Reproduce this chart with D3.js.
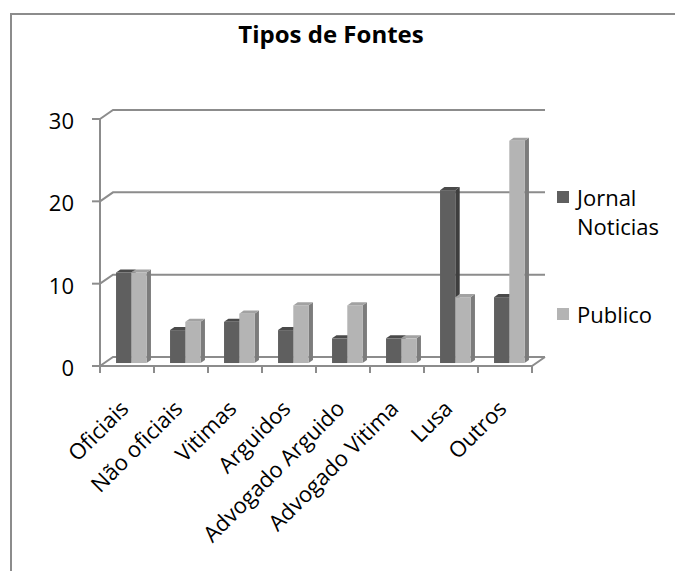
<!DOCTYPE html>
<html>
  <head>
    <meta charset="utf-8">
    <title>Tipos de Fontes</title>
    <script src="https://cdn.jsdelivr.net/npm/d3@7"></script>
    <style type="text/css">
      body { margin: 0; background: #fff; }
      text { font-family: "Open Sans", "Noto Sans", sans-serif; fill: #000; }
    </style>
  </head>
  <body>
    <script>
    // data
    var categories = ["Oficiais", "Não oficiais", "Vitimas", "Arguidos",
                      "Advogado Arguido", "Advogado Vitima", "Lusa", "Outros"];
    var series = ["Jornal Noticias", "Publico"];
    var jornalNoticias = [11, 4, 5, 4, 3, 3, 21, 8];
    var publico = [11, 5, 6, 7, 7, 3, 8, 27];
    var yTicks = [0, 10, 20, 30];

    var width = 675, height = 571;

    // fake 3d: depth offset of the back wall
    var DX = 13, DY = -9;
    var zFront = 0.33, zBack = 0.67;

    var palette = {
      "Jornal Noticias": {front: "#5f5f5f", top: "#4a4a4a", side: "#3e3e3e"},
      "Publico": {front: "#b4b4b4", top: "#a2a2a2", side: "#7c7c7c"}
    };

    var svg = d3.select("body")
      .append("svg")
        .attr("width", width)
        .attr("height", height);

    // outer frame (only top and left visible)
    svg.append("path")
      .attr("d", "M11," + height + "V14H" + width)
      .attr("fill", "none")
      .attr("stroke", "#8c8c8c")
      .attr("stroke-width", 2);

    svg.append("text")
      .attr("x", 331)
      .attr("y", 43)
      .attr("text-anchor", "middle")
      .style("font-weight", "bold")
      .style("font-size", "24px")
      .text("Tipos de Fontes");

    var xScale = d3.scaleBand()
      .domain(categories)
      .range([100, 532]);

    var xInner = d3.scaleBand()
      .domain(series)
      .range([0, xScale.bandwidth()])
      .paddingOuter(0.77);

    var yScale = d3.scaleLinear()
      .domain([0, 30])
      .range([366, 119]);

    function px(x, z) { return x + DX * z; }
    function py(y, z) { return y + DY * z; }

    var x0 = xScale.range()[0], x1 = xScale.range()[1];

    // left wall diagonals + back wall gridlines
    var grid = svg.append("g")
      .attr("fill", "none")
      .attr("stroke", "#8c8c8c")
      .attr("stroke-width", 2);

    grid.selectAll("path.grid")
      .data(yTicks)
      .enter()
      .append("path")
      .attr("class", "grid")
      .attr("d", function(d) {
        var y = yScale(d);
        return "M" + x0 + "," + y + "L" + px(x0, 1) + "," + py(y, 1) + "H" + px(x1, 1);
      });

    // floor front + right edge
    grid.append("path")
      .attr("d", "M" + x0 + "," + yScale(0) + "H" + x1 + "L" + px(x1, 1) + "," + py(yScale(0), 1));

    // value axis
    grid.append("path")
      .attr("d", "M" + x0 + "," + yScale(30) + "V" + yScale(0));

    grid.selectAll("path.ytick")
      .data(yTicks)
      .enter()
      .append("path")
      .attr("class", "ytick")
      .attr("d", function(d) { return "M" + (x0 - 8) + "," + yScale(d) + "H" + x0; });

    // category ticks at band edges
    var edges = categories.map(function(c) { return xScale(c); }).concat([x1]);
    grid.selectAll("path.xtick")
      .data(edges)
      .enter()
      .append("path")
      .attr("class", "xtick")
      .attr("d", function(d) { return "M" + d + "," + yScale(0) + "V" + (yScale(0) + 7); });

    svg.selectAll("text.ylab")
      .data(yTicks)
      .enter()
      .append("text")
      .attr("class", "ylab")
      .attr("x", 74)
      .attr("y", function(d) { return yScale(d) + 10; })
      .attr("text-anchor", "end")
      .style("font-size", "22px")
      .text(function(d) { return d; });

    // bars, drawn left to right so right-hand faces are covered properly
    var bars = [];
    categories.forEach(function(c, i) {
      bars.push({cat: c, s: series[0], v: jornalNoticias[i]});
      bars.push({cat: c, s: series[1], v: publico[i]});
    });

    var w = xInner.bandwidth();
    var barG = svg.selectAll("g.bar")
      .data(bars)
      .enter()
      .append("g")
      .attr("class", "bar");

    function face(pts) {
      return "M" + pts.map(function(p) { return p[0] + "," + p[1]; }).join("L") + "Z";
    }

    barG.each(function(d) {
      var g = d3.select(this);
      var xl = xScale(d.cat) + xInner(d.s), xr = xl + w;
      var yb = yScale(0), yt = yScale(d.v);
      var col = palette[d.s];
      // side
      g.append("path")
        .attr("fill", col.side)
        .attr("d", face([[px(xr, zFront), py(yb, zFront)], [px(xr, zBack), py(yb, zBack)],
                         [px(xr, zBack), py(yt, zBack)], [px(xr, zFront), py(yt, zFront)]]));
      // top
      g.append("path")
        .attr("fill", col.top)
        .attr("d", face([[px(xl, zFront), py(yt, zFront)], [px(xr, zFront), py(yt, zFront)],
                         [px(xr, zBack), py(yt, zBack)], [px(xl, zBack), py(yt, zBack)]]));
      // front
      g.append("rect")
        .attr("fill", col.front)
        .attr("x", px(xl, zFront))
        .attr("y", py(yt, zFront))
        .attr("width", w)
        .attr("height", yb - yt);
    });

    // category labels
    svg.selectAll("text.xlab")
      .data(categories)
      .enter()
      .append("text")
      .attr("class", "xlab")
      .attr("text-anchor", "end")
      .attr("transform", function(d) {
        return "translate(" + (xScale(d) + xScale.bandwidth() / 2 + 3) + ",410) rotate(-45)";
      })
      .style("font-size", "22px")
      .text(function(d) { return d; });

    // legend
    var legendItems = [
      {s: series[0], lines: ["Jornal", "Noticias"], y: 191},
      {s: series[1], lines: ["Publico"], y: 308}
    ];
    var leg = svg.selectAll("g.legend")
      .data(legendItems)
      .enter()
      .append("g")
      .attr("class", "legend");

    leg.append("rect")
      .attr("x", 557)
      .attr("y", function(d) { return d.y; })
      .attr("width", 12)
      .attr("height", 12)
      .attr("fill", function(d) { return palette[d.s].front; });

    leg.append("text")
      .attr("x", 577)
      .attr("y", function(d) { return d.y + 15; })
      .style("font-size", "22px")
      .selectAll("tspan")
      .data(function(d) { return d.lines; })
      .enter()
      .append("tspan")
      .attr("x", 577)
      .attr("dy", function(d, i) { return i === 0 ? 0 : 29; })
      .text(function(d) { return d; });
    </script>
  </body>
</html>
